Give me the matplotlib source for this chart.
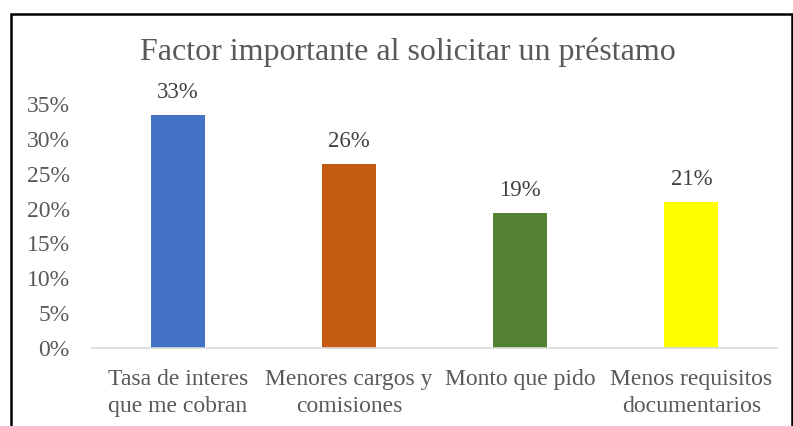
import matplotlib
matplotlib.use("Agg")
import matplotlib.pyplot as plt
from matplotlib.patches import Rectangle
from matplotlib.ticker import FuncFormatter, MultipleLocator

plt.rcParams['font.family'] = ['Liberation Serif', 'DejaVu Serif']

categorias = ['Tasa de interes\nque me cobran', 'Menores cargos y\ncomisiones',
              'Monto que pido', 'Menos requisitos\ndocumentarios']
valores = [0.334, 0.264, 0.194, 0.209]
colores = ['#4472C4', '#C55A11', '#548235', '#FFFF00']
titulo = 'Factor importante al solicitar un préstamo'

gris = '#595959'

fig = plt.figure(figsize=(7.93, 4.26), dpi=100)
ax = fig.add_axes([92/793, 1-348/426, 685/793, 244/426])

x = range(len(categorias))
ax.bar(x, valores, width=0.315, color=colores)
for xi, v in zip(x, valores):
    ax.annotate('{:.0%}'.format(v), (xi, v), xytext=(0, 8.5), textcoords='offset points',
                ha='center', va='bottom', fontsize=16.5, color='#404040')

ax.set_xlim(-0.5, len(categorias) - 0.5)
ax.set_ylim(0, 0.35)
ax.yaxis.set_major_locator(MultipleLocator(0.05))
ax.yaxis.set_major_formatter(FuncFormatter(lambda v, p: '{:.0f}%'.format(v*100)))
ax.set_xticks(list(x))
ax.set_xticklabels(categorias, fontsize=17, color=gris, linespacing=1.4)
ax.tick_params(axis='y', labelsize=17, labelcolor=gris, length=0, pad=16)
ax.tick_params(axis='x', length=0, pad=15)
for s in ['top', 'right', 'left']:
    ax.spines[s].set_visible(False)
ax.spines['bottom'].set_color('#D9D9D9')
ax.spines['bottom'].set_linewidth(1.2)

fig.text(408/793, 1-52/426, titulo, ha='center', va='center', fontsize=23, color=gris)

# borde del grafico
fig.patches.append(Rectangle((10.5/793, -0.1), 781/793, 1.1 - 13.5/426, transform=fig.transFigure,
                             fill=False, edgecolor='black', linewidth=1.8))

fig.savefig('out.png', dpi=100)
